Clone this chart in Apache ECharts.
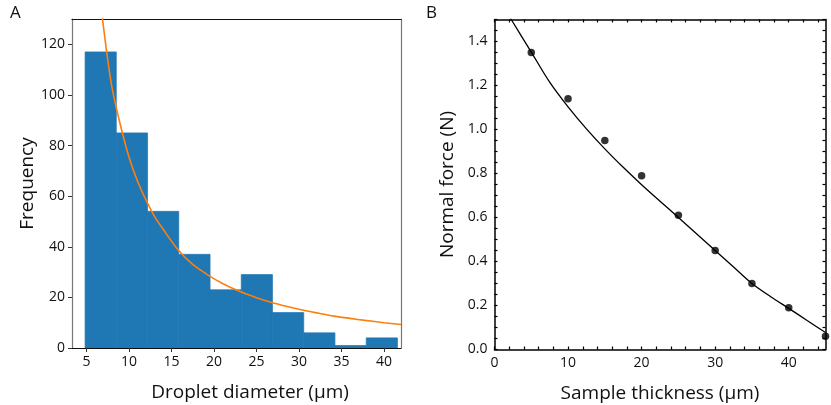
<!DOCTYPE html>
<html>
<head>
<meta charset="utf-8">
<script src="https://cdn.jsdelivr.net/npm/echarts@6/dist/echarts.min.js"></script>
<style>
html,body{margin:0;padding:0;background:#fff;}
#chart{width:831px;height:405px;}
</style>
</head>
<body>
<div id="chart"></div>
<script>
// ---- Panel A: histogram of droplet diameters ----
const binEdges = [4.84, 8.51, 12.19, 15.86, 19.54, 23.21, 26.88, 30.56, 34.23, 37.91, 41.58];
const binCounts = [117, 85, 54, 37, 23, 29, 14, 6, 1, 4];
// fitted curve (x in µm, frequency)
const fitAx = [6.5, 7.0, 7.5, 8.0, 9.0, 10.0, 11.0, 12.0, 13.0, 14.0, 15.8, 17.5, 19.4, 21.0, 23.0, 25.0, 26.7, 28.5, 30.4, 32.2, 34.1, 36.0, 37.8, 40.0, 42.0];
const fitAy = [141, 127, 114, 103, 88, 75.5, 66, 58.5, 52, 47, 38.7, 33, 28.6, 25.5, 22.4, 19.9, 18.1, 16.5, 15.0, 13.8, 12.6, 11.7, 10.9, 10.0, 9.3];
const ticksAx = [5, 10, 15, 20, 25, 30, 35, 40];
const ticksAy = [0, 20, 40, 60, 80, 100, 120];

// ---- Panel B: normal force vs sample thickness ----
const thickness = [5, 10, 15, 20, 25, 30, 35, 40, 45];
const force = [1.35, 1.14, 0.95, 0.79, 0.61, 0.45, 0.30, 0.19, 0.06];
const fitBx = [2.0, 2.28, 5, 7.5, 10, 12.5, 15, 17.5, 20, 22.5, 25, 27.5, 30, 32.5, 35, 37.5, 40, 42.5, 45];
const fitBy = [1.517, 1.50, 1.352, 1.215, 1.103, 1.003, 0.912, 0.828, 0.749, 0.674, 0.600, 0.525, 0.450, 0.375, 0.300, 0.241, 0.187, 0.132, 0.077];
const labelsBx = [0, 10, 20, 30, 40];
const ticksBx = [0, 2, 4, 6, 8, 10, 12, 14, 16, 18, 20, 22, 24, 26, 28, 30, 32, 34, 36, 38, 40, 42, 44];
const labelsBy = [0, 0.2, 0.4, 0.6, 0.8, 1.0, 1.2, 1.4];
const ticksBy = [0, 0.05, 0.1, 0.15, 0.2, 0.25, 0.3, 0.35, 0.4, 0.45, 0.5, 0.55, 0.6, 0.65, 0.7, 0.75, 0.8, 0.85, 0.9, 0.95, 1.0, 1.05, 1.1, 1.15, 1.2, 1.25, 1.3, 1.35, 1.4, 1.45, 1.5];

const FONT = 'Open Sans';
const histData = binCounts.map((c, i) => [binEdges[i], binEdges[i + 1], c]);
const fitAData = fitAx.map((x, i) => [x, fitAy[i]]);
const fitBData = fitBx.map((x, i) => [x, fitBy[i]]);
const pointsB = thickness.map((x, i) => [x, force[i]]);

const tickLabel = {fontFamily: FONT, fontSize: 14, color: '#111'};
const nameStyle = {fontFamily: FONT, fontSize: 19, color: '#111'};

const chart = echarts.init(document.getElementById('chart'), null, {renderer: 'canvas'});
chart.setOption({
  animation: false,
  backgroundColor: '#fff',
  grid: [
    {left: 72, top: 19, width: 329, height: 329, containLabel: false, outerBoundsMode: 'none'},
    {left: 494.5, top: 19.5, width: 331, height: 330, containLabel: false, outerBoundsMode: 'none'}
  ],
  graphic: [
    {type: 'text', left: 10, top: 5, style: {text: 'A', fontFamily: FONT, fontSize: 17, fill: '#111'}},
    {type: 'text', left: 426, top: 5, style: {text: 'B', fontFamily: FONT, fontSize: 17, fill: '#111'}},
    {type: 'text', x: 250, y: 393, style: {text: 'Droplet diameter (µm)', fontFamily: FONT, fontSize: 19, fill: '#111', align: 'center', verticalAlign: 'middle'}}
  ],
  xAxis: [
    {
      gridIndex: 0, type: 'value', min: 3.3, max: 42, position: 'bottom',
      axisLine: {show: true, onZero: false, lineStyle: {color: '#111', width: 1.2}},
      axisTick: {show: true, inside: false, length: 4, customValues: ticksAx, lineStyle: {color: '#333'}},
      axisLabel: {customValues: ticksAx, margin: 7, ...tickLabel},
      splitLine: {show: false}
    },
    {
      gridIndex: 0, type: 'value', min: 3.3, max: 42, position: 'top',
      axisLine: {show: true, onZero: false, lineStyle: {color: '#111', width: 1.2}},
      axisTick: {show: false}, axisLabel: {show: false}, splitLine: {show: false}
    },
    {
      gridIndex: 1, type: 'value', min: 0, max: 45, position: 'bottom',
      name: 'Sample thickness (µm)', nameLocation: 'middle', nameGap: 35, nameTextStyle: nameStyle,
      axisLine: {show: true, onZero: false, lineStyle: {color: '#000', width: 1.5}},
      axisTick: {show: true, inside: true, length: 3, customValues: ticksBx, lineStyle: {color: '#000', width: 1.2}},
      axisLabel: {customValues: labelsBx, margin: 7, ...tickLabel},
      splitLine: {show: false}
    },
    {
      gridIndex: 1, type: 'value', min: 0, max: 45, position: 'top',
      axisLine: {show: true, onZero: false, lineStyle: {color: '#000', width: 1.5}},
      axisTick: {show: true, inside: true, length: 3, customValues: ticksBx, lineStyle: {color: '#000', width: 1.2}},
      axisLabel: {show: false}, splitLine: {show: false}
    }
  ],
  yAxis: [
    {
      gridIndex: 0, type: 'value', min: 0, max: 130, position: 'left',
      name: 'Frequency', nameLocation: 'middle', nameGap: 33, nameTextStyle: nameStyle,
      axisLine: {show: true, onZero: false, lineStyle: {color: '#777', width: 1.2}},
      axisTick: {show: true, inside: false, length: 4, customValues: ticksAy, lineStyle: {color: '#333'}},
      axisLabel: {customValues: ticksAy, margin: 7, ...tickLabel},
      splitLine: {show: false}
    },
    {
      gridIndex: 0, type: 'value', min: 0, max: 130, position: 'right',
      axisLine: {show: true, onZero: false, lineStyle: {color: '#777', width: 1.2}},
      axisTick: {show: false}, axisLabel: {show: false}, splitLine: {show: false}
    },
    {
      gridIndex: 1, type: 'value', min: 0, max: 1.5, position: 'left',
      name: 'Normal force (N)', nameLocation: 'middle', nameGap: 37, nameTextStyle: nameStyle,
      axisLine: {show: true, onZero: false, lineStyle: {color: '#000', width: 1.5}},
      axisTick: {show: true, inside: true, length: 3, customValues: ticksBy, lineStyle: {color: '#000', width: 1.2}},
      axisLabel: {customValues: labelsBy, margin: 7, formatter: v => v.toFixed(1), ...tickLabel},
      splitLine: {show: false}
    },
    {
      gridIndex: 1, type: 'value', min: 0, max: 1.5, position: 'right',
      axisLine: {show: true, onZero: false, lineStyle: {color: '#000', width: 1.5}},
      axisTick: {show: true, inside: true, length: 3, customValues: ticksBy, lineStyle: {color: '#000', width: 1.2}},
      axisLabel: {show: false}, splitLine: {show: false}
    }
  ],
  series: [
    {
      type: 'custom', xAxisIndex: 0, yAxisIndex: 0, clip: true,
      encode: {x: [0, 1], y: 2},
      data: histData,
      renderItem: function (params, api) {
        const p0 = api.coord([api.value(0), api.value(2)]);
        const p1 = api.coord([api.value(1), 0]);
        return {
          type: 'rect',
          shape: {x: p0[0], y: p0[1], width: p1[0] - p0[0], height: p1[1] - p0[1]},
          style: {fill: '#1f77b4', stroke: '#1f77b4', lineWidth: 0.7}
        };
      },
      z: 2
    },
    {
      type: 'line', xAxisIndex: 0, yAxisIndex: 0, data: fitAData,
      smooth: 0.3, showSymbol: false, clip: true,
      lineStyle: {color: '#ff7f0e', width: 1.6}, z: 3
    },
    {
      type: 'line', xAxisIndex: 2, yAxisIndex: 2, data: fitBData,
      smooth: 0.3, showSymbol: false, clip: true,
      lineStyle: {color: '#000', width: 1.3}, z: 3
    },
    {
      type: 'scatter', xAxisIndex: 2, yAxisIndex: 2, data: pointsB,
      symbol: 'circle', symbolSize: 7.5, itemStyle: {color: '#000'}, clip: true, z: 4
    }
  ]
});
</script>
</body>
</html>
